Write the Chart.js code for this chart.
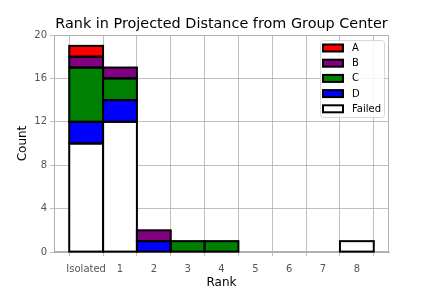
<!DOCTYPE html>
<html>
<head>
<meta charset="utf-8">
<script src="https://cdn.jsdelivr.net/npm/chart.js@4"></script>
<style>
  html, body { margin: 0; padding: 0; background: #fff; }
  canvas { display: block; }
</style>
</head>
<body>
<canvas id="chart" width="432" height="288"></canvas>
<script>
// --- DATOS ---
const rankLabels = ['Isolated', '1', '2', '3', '4', '5', '6', '7', '8'];
const failedCounts = [10, 12, 0, 0, 0, 0, 0, 0, 1];
const dCounts = [2, 2, 1, 0, 0, 0, 0, 0, 0];
const cCounts = [5, 2, 0, 1, 1, 0, 0, 0, 0];
const bCounts = [1, 1, 1, 0, 0, 0, 0, 0, 0];
const aCounts = [1, 0, 0, 0, 0, 0, 0, 0, 0];
const yTicks = [0, 4, 8, 12, 16, 20];

const FONT = "'DejaVu Sans', sans-serif";
const GRID = '#b0b0b0';
const TICK_COLOR = '#555555';

// ceros -> null para no dibujar barras vacías
function toPoints(arr) {
    return arr.map((v, i) => ({ x: i, y: v === 0 ? null : v }));
}

function makeSet(label, arr, color) {
    return {
        label: label,
        data: toPoints(arr),
        backgroundColor: color,
        borderWidth: 0,
        barPercentage: 1,
        categoryPercentage: 1,
        stack: 's'
    };
}

// orden de apilado: Failed abajo, A arriba
const datasets = [
    makeSet('Failed', failedCounts, '#ffffff'),
    makeSet('D', dCounts, '#0000ff'),
    makeSet('C', cCounts, '#008000'),
    makeSet('B', bCounts, '#800080'),
    makeSet('A', aCounts, '#ff0000')
];

// Título, marco, bordes de barras y leyenda
const decorPlugin = {
    id: 'decor',
    beforeDatasetsDraw(chart) {
        const a = chart.chartArea;
        const ctx = chart.ctx;
        ctx.save();
        ctx.strokeStyle = GRID;
        ctx.lineWidth = 1;
        ctx.strokeRect(a.left + 0.5, a.top + 0.5, a.right - a.left - 1, a.bottom - a.top - 1);
        ctx.restore();
    },
    afterDatasetsDraw(chart) {
        // bordes negros centrados en el contorno (como matplotlib)
        const ctx = chart.ctx;
        ctx.save();
        ctx.strokeStyle = '#000';
        ctx.lineWidth = 2;
        chart.data.datasets.forEach((ds, i) => {
            const meta = chart.getDatasetMeta(i);
            meta.data.forEach((el, j) => {
                if (ds.data[j].y === null) return;
                const p = el.getProps(['x', 'y', 'base', 'width'], true);
                ctx.strokeRect(p.x - p.width / 2, p.y, p.width, p.base - p.y);
            });
        });
        ctx.restore();
    },
    afterDraw(chart) {
        const a = chart.chartArea;
        const ctx = chart.ctx;
        ctx.save();
        // título
        ctx.fillStyle = '#000';
        ctx.font = '14.4px ' + FONT;
        ctx.textAlign = 'center';
        ctx.textBaseline = 'middle';
        ctx.fillText('Rank in Projected Distance from Group Center', (a.left + a.right) / 2, 24);

        // leyenda
        const items = datasets.slice().reverse();
        const bx = 320, by = 40.5, bw = 64, bh = 77;
        ctx.fillStyle = 'rgba(255,255,255,0.85)';
        ctx.strokeStyle = '#d8d8d8';
        ctx.lineWidth = 1;
        ctx.beginPath();
        ctx.roundRect(bx + 0.5, by, bw, bh, 3);
        ctx.fill();
        ctx.stroke();
        ctx.font = '10px ' + FONT;
        ctx.textAlign = 'left';
        items.forEach((ds, i) => {
            const y = by + 7.5 + i * 15.2;
            ctx.fillStyle = ds.backgroundColor;
            ctx.fillRect(bx + 3, y - 3.5, 20, 7);
            ctx.strokeStyle = '#000';
            ctx.lineWidth = 2;
            ctx.strokeRect(bx + 3, y - 3.5, 20, 7);
            ctx.fillStyle = '#000';
            ctx.fillText(ds.label, bx + 32, y + 0.5);
        });
        ctx.restore();
    }
};

function initChart() {
    const ctx = document.getElementById('chart').getContext('2d');
    new Chart(ctx, {
        type: 'bar',
        data: { datasets: datasets },
        options: {
            responsive: false,
            animation: false,
            layout: { padding: { left: 0, right: 43, top: 35, bottom: 0 } },
            plugins: {
                legend: { display: false },
                title: { display: false },
                tooltip: { enabled: false }
            },
            scales: {
                x: {
                    type: 'linear',
                    stacked: true,
                    min: -0.95,
                    max: 8.95,
                    offset: false,
                    afterBuildTicks: (axis) => {
                        axis.ticks = rankLabels.map((_, i) => ({ value: i }));
                    },
                    afterFit: (axis) => { axis.height = 36; },
                    ticks: {
                        color: TICK_COLOR,
                        font: { family: FONT, size: 10 },
                        padding: 7,
                        maxRotation: 0,
                        autoSkip: false,
                        callback: (v) => rankLabels[v]
                    },
                    grid: { color: GRID, lineWidth: 0.8, tickLength: 4 },
                    border: { color: GRID },
                    title: {
                        display: true,
                        text: 'Rank',
                        color: '#000',
                        font: { family: FONT, size: 12, lineHeight: 0.8 },
                        padding: { top: 0, bottom: 0 }
                    }
                },
                y: {
                    stacked: true,
                    min: 0,
                    max: 20,
                    afterBuildTicks: (axis) => {
                        axis.ticks = yTicks.map(v => ({ value: v }));
                    },
                    afterFit: (axis) => { axis.width = 54; },
                    ticks: {
                        color: TICK_COLOR,
                        font: { family: FONT, size: 10 },
                        padding: 3
                    },
                    grid: { color: GRID, lineWidth: 0.8, tickLength: 4 },
                    border: { color: GRID },
                    title: {
                        display: true,
                        text: 'Count',
                        color: '#000',
                        font: { family: FONT, size: 12, lineHeight: 0.8 },
                        padding: { top: 18, bottom: 0 }
                    }
                }
            }
        },
        plugins: [decorPlugin]
    });
}

window.addEventListener('load', initChart);
</script>
</body>
</html>
